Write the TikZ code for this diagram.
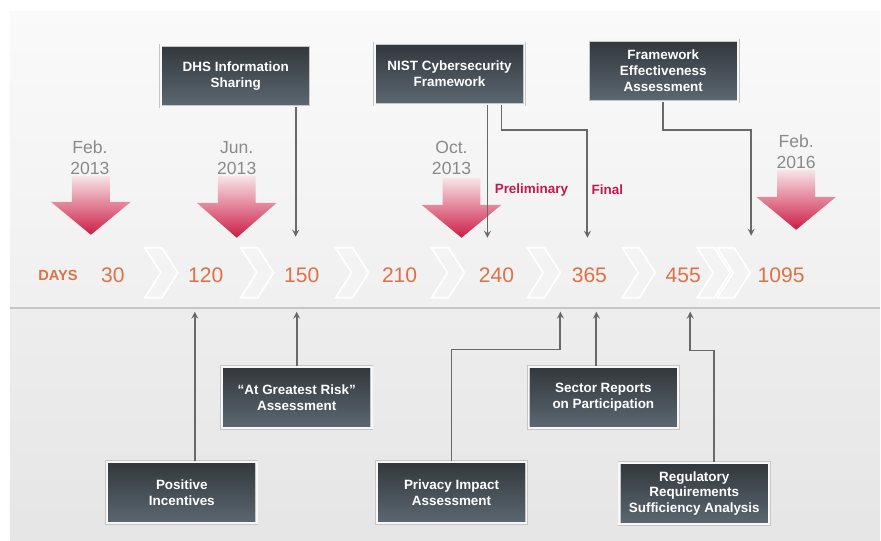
\documentclass[tikz,border=0pt]{standalone}
\usepackage{fontspec}
\setmainfont{Liberation Sans}
\usetikzlibrary{shapes,arrows,positioning,calc}

\definecolor{daysorange}{RGB}{224,112,70}
\definecolor{dategray}{RGB}{138,138,138}
\definecolor{phasered}{RGB}{196,24,78}
\definecolor{boxtop}{RGB}{50,55,60}
\definecolor{boxbot}{RGB}{92,104,114}
\definecolor{linegray}{RGB}{105,105,105}
\definecolor{arrowtop}{RGB}{248,228,233}
\definecolor{arrowbot}{RGB}{204,28,68}

\begin{document}
\begin{tikzpicture}[
    x=0.03cm, y=-0.03cm,
    box/.style={rectangle, draw=gray!45, double=white!94!gray, double distance=1.6pt, line width=0.5pt, top color=boxtop, bottom color=boxbot, minimum width=4.5cm, minimum height=1.85cm, align=center, text=white, font=\fontsize{11.5}{13.5}\selectfont\bfseries},
    arrow/.style={->, >=stealth, linegray, line width=1.6pt},
    day/.style={text=daysorange, font=\fontsize{18}{20}\selectfont},
    date/.style={text=dategray, align=center, font=\fontsize{15}{18}\selectfont},
    phase/.style={text=phasered, font=\fontsize{11.5}{13.5}\selectfont\bfseries},
    chev/.style={draw=white, line width=1.5pt, fill=white, fill opacity=0.2},
    bigarrow/.style={top color=arrowtop, bottom color=arrowbot}
]

% background
\fill[white] (0,0) rectangle (881,541);
\shade[top color=gray!4, bottom color=gray!12] (10,12) rectangle (881,308);
\shade[top color=gray!14, bottom color=gray!20] (10,308) rectangle (881,541);
\draw[gray!45, line width=1.6pt] (10,308) -- (881,308);
\useasboundingbox (0,0) rectangle (881,541);

% month arrows
\foreach \cx/\ty/\hy/\py in {91/176/202/235, 237/176/203/238, 462/178/205/238, 797/170/197/230}
    \shade[bigarrow] (\cx-19,\ty) -- (\cx+19,\ty) -- (\cx+19,\hy) -- (\cx+40,\hy) -- (\cx,\py) -- (\cx-40,\hy) -- (\cx-19,\hy) -- cycle;

\node[date] (feb13) at (90,158) {Feb.\\2013};
\node[date] (jun13) at (237,158) {Jun.\\2013};
\node[date] (oct13) at (452,158) {Oct.\\2013};
\node[date] (feb16) at (797,152) {Feb.\\2016};

% timeline
\foreach \lx in {145,241,336,432,528,623,698,718}
    \draw[chev] (\lx,248) -- ++(17,0) -- ++(16,25) -- ++(-16,25) -- ++(-17,0) -- ++(16,-25) -- cycle;

\node[text=daysorange, font=\fontsize{12.5}{14}\selectfont\bfseries] (days) at (58,276) {DAYS};
\foreach \n/\cx in {30/113, 120/206, 150/302, 210/400, 240/497, 365/590, 455/684, 1095/782}
    \node[day] (d\n) at (\cx,276) {\n};

\coordinate (t150) at (296,237);
\coordinate (tpre) at (488,238);
\coordinate (tfin) at (588,238);
\coordinate (t1095) at (752,236);
\coordinate (b120) at (195,312);
\coordinate (b150) at (297,312);
\coordinate (b365a) at (561,312);
\coordinate (b365b) at (597,312);
\coordinate (b455) at (691,312);

% top boxes
\node[box] (dhs) at (236,76) {DHS Information\\Sharing};
\node[box] (nist) at (450,74) {NIST Cybersecurity\\Framework};
\node[box] (fea) at (664,71) {Framework\\Effectiveness\\Assessment};

\node[phase] (prelim) at (532,190) {Preliminary};
\node[phase] (final) at (608,190) {Final};

% bottom boxes
\node[box] (agr) at (297,398) {“At Greatest Risk”\\Assessment};
\node[box] (sec) at (604,398) {Sector Reports\\on Participation};
\node[box] (pos) at (182,493) {Positive\\Incentives};
\node[box] (pia) at (452,493) {Privacy Impact\\Assessment};
\node[box] (reg) at (695,494) {Regulatory\\Requirements\\Sufficiency Analysis};

\draw[arrow] (dhs.south -| t150) -- (t150);
\draw[arrow] (nist.south -| tpre) -- (tpre);
\draw[arrow] ($(nist.south)+(52,0)$) -- ++(0,25) -| (tfin);
\draw[arrow] (fea.south) -- ++(0,28) -| (t1095);

\draw[arrow] (pos.north -| b120) -- (b120);
\draw[arrow] (agr.north -| b150) -- (b150);
\draw[arrow] (pia.north) -- ++(0,-112) -| (b365a);
\draw[arrow] (sec.north -| b365b) -- (b365b);
\draw[arrow] ($(reg.north)+(20,0)$) -- ++(0,-112) -| (b455);

\end{tikzpicture}
\end{document}
